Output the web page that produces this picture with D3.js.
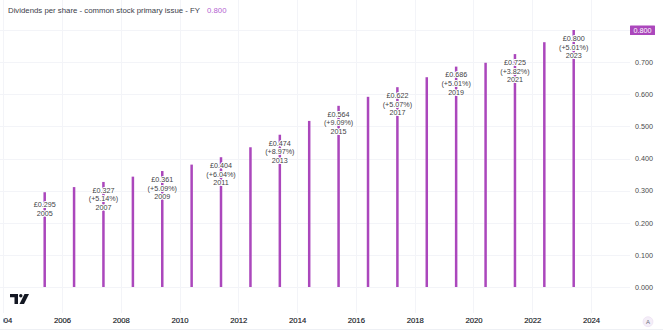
<!DOCTYPE html>
<html><head><meta charset="utf-8">
<script src="https://cdn.jsdelivr.net/npm/d3@7"></script>
<style>
html,body{margin:0;padding:0;background:#fff;}
svg{display:block;font-family:"Liberation Sans",Arial,sans-serif;}
</style></head>
<body><svg id="chart" width="663" height="332"></svg>
<script>
// Data
const years = [2005,2006,2007,2008,2009,2010,2011,2012,2013,2014,2015,2016,2017,2018,2019,2020,2021,2022,2023];
const dividends = [0.295,0.311,0.327,0.3435,0.361,0.381,0.404,0.435,0.474,0.517,0.564,0.592,0.622,0.653,0.686,0.698,0.725,0.762,0.800];
const changeLabels = [null,null,"+5.14%",null,"+5.09%",null,"+6.04%",null,"+8.97%",null,"+9.09%",null,"+5.07%",null,"+5.01%",null,"+3.82%",null,"+5.01%"];
const labelledYears = [2005,2007,2009,2011,2013,2015,2017,2019,2021,2023];
const xTickYears = [2004,2006,2008,2010,2012,2014,2016,2018,2020,2022,2024];
const yTicks = [0,0.1,0.2,0.3,0.4,0.5,0.6,0.7,0.8];
const titleText = "Dividends per share - common stock primary issue - FY";
const lastValue = "0.800";

const purple = "#ab47bc";
const svg = d3.select("#chart");
const W = 663, H = 332;
const plotRight = 630, plotBottom = 313;

const x = d3.scaleTime()
  .domain([new Date(2006,0,1), new Date(2024,0,1)])
  .range([62, 591]);
const y = d3.scaleLinear().domain([0,0.8]).range([287,30]);
const barDate = yr => new Date(yr,4,31);

// Vertical gridlines
svg.append("g").selectAll("line").data(xTickYears).join("line")
  .attr("x1", d=>Math.round(x(new Date(d,0,1)))+0.5)
  .attr("x2", d=>Math.round(x(new Date(d,0,1)))+0.5)
  .attr("y1", 0).attr("y2", plotBottom)
  .attr("stroke", "#f3f4f8").attr("stroke-width", 1);

// Horizontal gridlines
svg.append("g").selectAll("line").data(yTicks).join("line")
  .attr("x1", 0).attr("x2", plotRight)
  .attr("y1", d=>Math.round(y(d))+0.5).attr("y2", d=>Math.round(y(d))+0.5)
  .attr("stroke", "#f3f4f8").attr("stroke-width", 1);

// Bars
svg.append("g").selectAll("rect").data(years).join("rect")
  .attr("x", (d)=>x(barDate(d))-1.25)
  .attr("width", 2.5)
  .attr("y", (d,i)=>y(dividends[i]))
  .attr("height", (d,i)=>y(0)-y(dividends[i]))
  .attr("fill", purple);

// Data labels
const lblG = svg.append("g").attr("font-size", 7.2).attr("fill", "#3f3f46")
  .attr("text-anchor", "middle");
years.forEach((yr,i)=>{
  if (!labelledYears.includes(yr)) return;
  const lines = ["£" + dividends[i].toFixed(3)];
  if (changeLabels[i]) lines.push("(" + changeLabels[i] + ")");
  lines.push(String(yr));
  const cx = x(barDate(yr));
  const center = y(dividends[i]) + 17;
  const lh = 8.7;
  const start = center - (lines.length-1)*lh/2;
  lines.forEach((t,j)=>{
    lblG.append("text")
      .attr("x", cx).attr("y", start + j*lh)
      .attr("dy", "0.35em")
      .attr("stroke", "#fff").attr("stroke-width", 2.2)
      .attr("paint-order", "stroke").attr("stroke-linejoin","round")
      .text(t);
  });
});

// Y axis labels (right)
const yAx = svg.append("g").attr("transform", `translate(${plotRight},0)`)
  .call(d3.axisRight(y).tickValues(yTicks.slice(0,-1)).tickFormat(d3.format(".3f")).tickSize(0).tickPadding(5));
yAx.select(".domain").remove();
yAx.selectAll("text").attr("font-size", 7.2).attr("fill", "#4a4a4a")
  .attr("font-family", "Liberation Sans, Arial, sans-serif");

// Last value badge
svg.append("rect").attr("x", 630).attr("y", y(0.8)-4.5).attr("width", 25).attr("height", 9.5)
  .attr("fill", purple).attr("rx", 0.5);
svg.append("text").attr("x", 642.5).attr("y", y(0.8)+0.3).attr("dy","0.35em")
  .attr("text-anchor","middle").attr("font-size", 7.2).attr("fill","#fff").text(lastValue);

// X axis labels
svg.append("clipPath").attr("id","xclip").append("rect")
  .attr("x", 3.2).attr("y", 0).attr("width", 620).attr("height", 19);
const xAx = svg.append("g")
  .attr("transform", `translate(0,${plotBottom})`);
const xInner = xAx.append("g").attr("clip-path","url(#xclip)")
  .call(d3.axisBottom(x).tickValues(xTickYears.map(d=>new Date(d,0,1)))
    .tickFormat(d3.timeFormat("%Y")).tickSize(0).tickPadding(5));
xInner.select(".domain").remove();
xInner.selectAll("text").attr("font-size", 7.7).attr("fill", "#131722")
  .attr("font-family", "Liberation Sans, Arial, sans-serif")
  .attr("stroke", "#131722").attr("stroke-width", 0.15);

// Bottom border
svg.append("line").attr("x1",0).attr("x2",W).attr("y1",329.5).attr("y2",329.5)
  .attr("stroke","#eef0f4");

// "A" button
svg.append("circle").attr("cx",648).attr("cy",321.7).attr("r",5)
  .attr("fill","#f4eef8").attr("stroke","#eadcf0").attr("stroke-width",0.6);
svg.append("text").attr("x",648).attr("y",322).attr("dy","0.35em")
  .attr("text-anchor","middle").attr("font-size",6).attr("fill","#6a6d78").text("A");

// Title
const title = svg.append("text").attr("x", 8).attr("y", 10.7).attr("dy","0.35em")
  .attr("font-size", 7.8).attr("fill", "#3a3d48");
title.append("tspan").text(titleText);
title.append("tspan").attr("dx", 7).attr("fill", "#b45fd0").text(lastValue);

// TV logo
const logo = svg.append("g").attr("transform","translate(10,294)").attr("fill","#131722");
logo.append("path").attr("d","M0,0 H8 V10 H4.5 V3.2 H0 Z");
logo.append("circle").attr("cx",10.8).attr("cy",1.7).attr("r",1.7);
logo.append("path").attr("d","M14.5,0 H19 L14,10 H9.5 Z");
</script></body></html>
